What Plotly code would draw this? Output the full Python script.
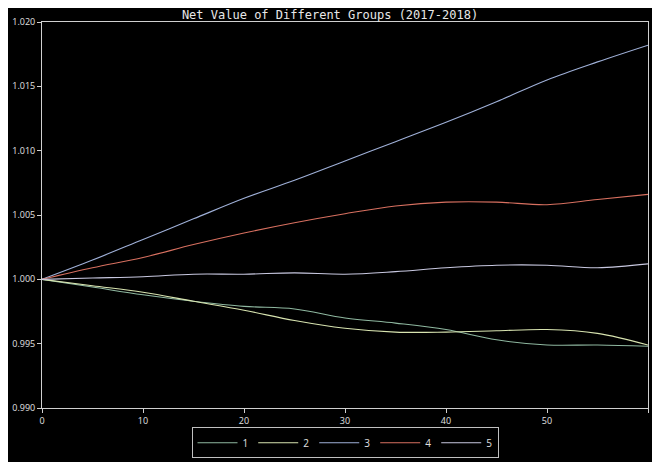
import plotly.graph_objects as go

x = [0, 5, 10, 15, 20, 25, 30, 35, 40, 45, 50, 55, 60]
g1 = [1.0, 0.9994, 0.9988, 0.9983, 0.9979, 0.9977, 0.9970, 0.9966, 0.9961, 0.9953, 0.9949, 0.9949, 0.9948]
g2 = [1.0, 0.9995, 0.9990, 0.9983, 0.9976, 0.9968, 0.9962, 0.9959, 0.9959, 0.9960, 0.9961, 0.9958, 0.9949]
g3 = [1.0, 1.0015, 1.0031, 1.0047, 1.0063, 1.0077, 1.0092, 1.0107, 1.0122, 1.0138, 1.0155, 1.0169, 1.0182]
g4 = [1.0, 1.0009, 1.0017, 1.0027, 1.0036, 1.0044, 1.0051, 1.0057, 1.0060, 1.0060, 1.0058, 1.0062, 1.0066]
g5 = [1.0, 1.0001, 1.0002, 1.0004, 1.0004, 1.0005, 1.0004, 1.0006, 1.0009, 1.0011, 1.0011, 1.0009, 1.0012]

names = ["1", "2", "3", "4", "5"]
series = [g1, g2, g3, g4, g5]
colors = ["#8fb8a0", "#d8e4b0", "#9fb0d8", "#d87060", "#c8c8e0"]

fig = go.Figure()
for name, ys, c in zip(names, series, colors):
    fig.add_trace(go.Scatter(x=x, y=ys, name=name, mode="lines",
                             line=dict(color=c, width=1.1, shape="spline")))

axis = dict(showgrid=False, zeroline=False, showline=True, linecolor="#d0d0d0",
            mirror=True, ticks="outside", tickcolor="#d0d0d0", ticklen=4,
            automargin=False, tickfont=dict(color="#e0e0e0", size=9))
fig.update_layout(
    width=644, height=454,
    paper_bgcolor="black", plot_bgcolor="black",
    margin=dict(l=34, r=4, t=14, b=52),
    title=dict(text="Net Value of Different Groups (2017-2018)", x=0.5, xanchor="center",
               y=0.995, font=dict(family="DejaVu Sans Mono", size=12, color="#e8e8e8")),
    xaxis=dict(axis, range=[0, 60], tickvals=[0, 10, 20, 30, 40, 50, 60]),
    yaxis=dict(axis, range=[0.990, 1.020], dtick=0.005, tickformat=".3f"),
    legend=dict(orientation="h", x=0.5, xanchor="center", y=-0.05, yanchor="top",
                bgcolor="black", bordercolor="#c0c0c0", borderwidth=1,
                font=dict(color="#e0e0e0", size=10), itemwidth=40),
    showlegend=True,
)
fig.write_html("out.html")
